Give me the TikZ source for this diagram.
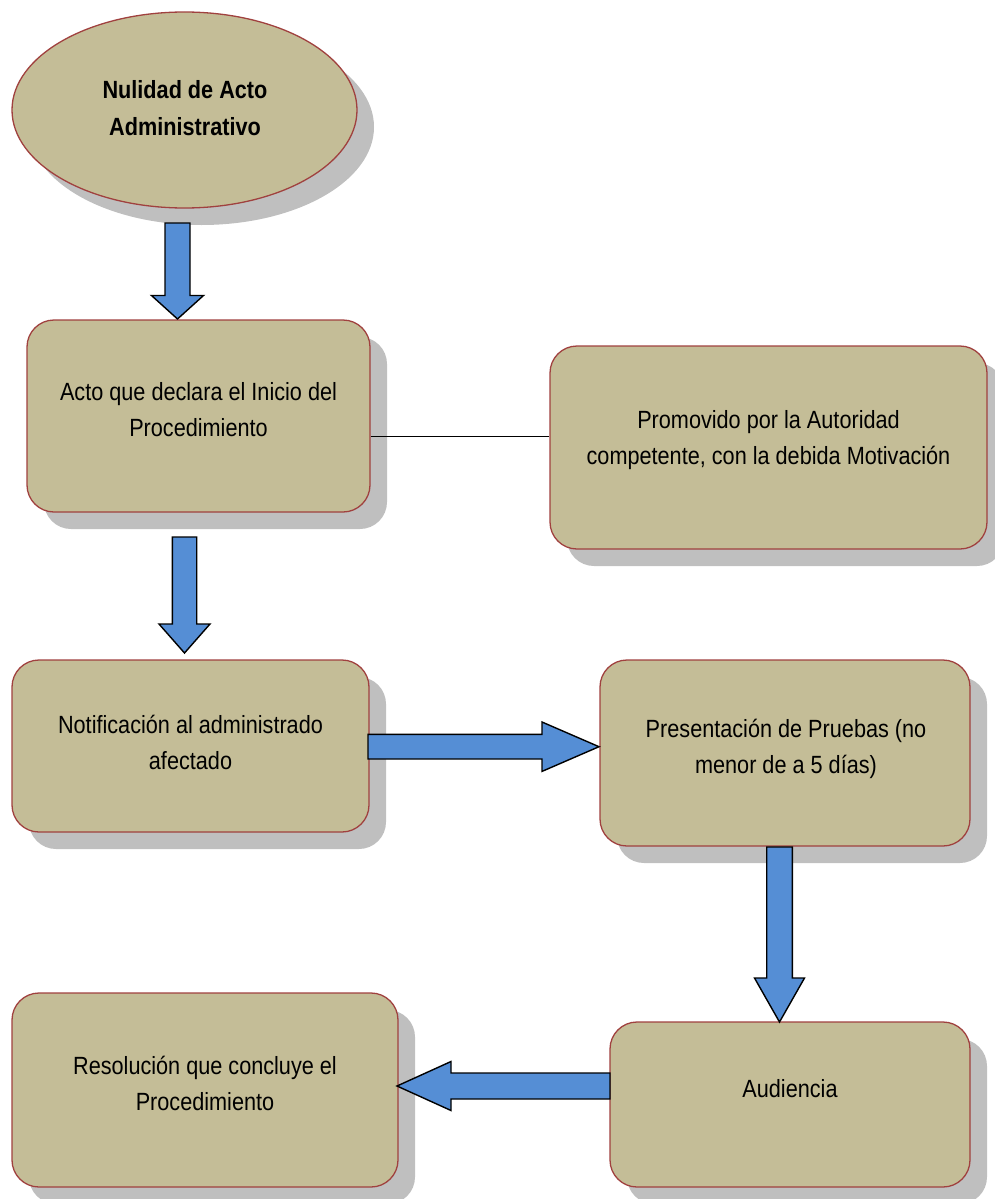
\documentclass[tikz,border=0pt]{standalone}
\usepackage{fontspec}
\setmainfont[FakeStretch=0.87]{Liberation Sans}
\usetikzlibrary{calc,shapes.geometric}
\definecolor{boxfill}{HTML}{C4BD97}
\definecolor{boxedge}{HTML}{A0413F}
\definecolor{shadowgray}{HTML}{BFBFBF}
\definecolor{arrowblue}{HTML}{558ED5}
\tikzset{
  x=1pt, y=-1pt,
  shadowed/.style={preaction={fill=shadowgray, transform canvas={xshift=17pt, yshift=-17pt}}},
  stepbox/.style={shadowed, draw=boxedge, fill=boxfill, line width=1.3pt, rounded corners=27pt, inner sep=0pt},
  oval/.style={shadowed, ellipse, draw=boxedge, fill=boxfill, line width=1.3pt, inner sep=0pt},
  boxtext/.style={align=center, anchor=base, inner sep=0pt, font=\fontsize{24.9}{36}\selectfont},
  blk/.style={draw=black, fill=arrowblue, line width=1.4pt, line join=miter},
  link/.style={draw=black, line width=0.9pt},
}
\begin{document}
\begin{tikzpicture}
\useasboundingbox (0,0) rectangle (994,1199);
% shapes
\node[oval, minimum width=345pt, minimum height=196pt] (N) at (184.5,110) {};
\node[stepbox, minimum width=343pt, minimum height=192pt] (A) at (198.5,416) {};
\node[stepbox, minimum width=437pt, minimum height=203pt] (B) at (768.5,447.5) {};
\node[stepbox, minimum width=357pt, minimum height=172pt] (C) at (190.5,746) {};
\node[stepbox, minimum width=370pt, minimum height=186pt] (D) at (785,753) {};
\node[stepbox, minimum width=360pt, minimum height=165pt] (E) at (790,1104.5) {};
\node[stepbox, minimum width=386pt, minimum height=194pt] (F) at (205,1090) {};
% texts (base anchor = baseline of last line)
\node[boxtext, font=\fontsize{24.9}{37}\selectfont\bfseries] (tN) at (185,135) {Nulidad de Acto\\Administrativo};
\node[boxtext] (tA) at (198.5,436) {Acto que declara el Inicio del\\Procedimiento};
\node[boxtext] (tB) at (768.5,464) {Promovido por la Autoridad\\competente, con la debida Motivación};
\node[boxtext] (tC) at (190.5,769) {Notificación al administrado\\afectado};
\node[boxtext] (tD) at (786,773) {Presentación de Pruebas (no\\menor de a 5 días)};
\node[boxtext] (tE) at (790,1097) {Audiencia};
\node[boxtext] (tF) at (205,1110) {Resolución que concluye el\\Procedimiento};
% plain connector A -- B
\path (A.east) ++(0,20) coordinate (ab);
\draw[link] (ab) -- (ab -| B.west);
% block arrows
% N -> A (down)
\draw[blk] (165,223) -- (165,295.5) -- (151.5,295.5) -- (177.5,319) -- (203.5,295.5) -- (190,295.5) -- (190,223) -- cycle;
% A -> C (down)
\draw[blk] (172.3,537) -- (172.3,624) -- (159,624) -- (184.5,653) -- (210,624) -- (196.7,624) -- (196.7,537) -- cycle;
% C -> D (right)
\draw[blk] (368,734.4) -- (542,734.4) -- (542,722) -- (599,746.7) -- (542,771.4) -- (542,759) -- (368,759) -- cycle;
% D -> E (down)
\draw[blk] (766.7,847) -- (766.7,978) -- (754.5,978) -- (779.5,1022) -- (804.5,978) -- (792.3,978) -- (792.3,847) -- cycle;
% E -> F (left)
\draw[blk] (610,1073) -- (451,1073) -- (451,1061.5) -- (397,1086) -- (451,1110.5) -- (451,1099) -- (610,1099) -- cycle;
\end{tikzpicture}
\end{document}
